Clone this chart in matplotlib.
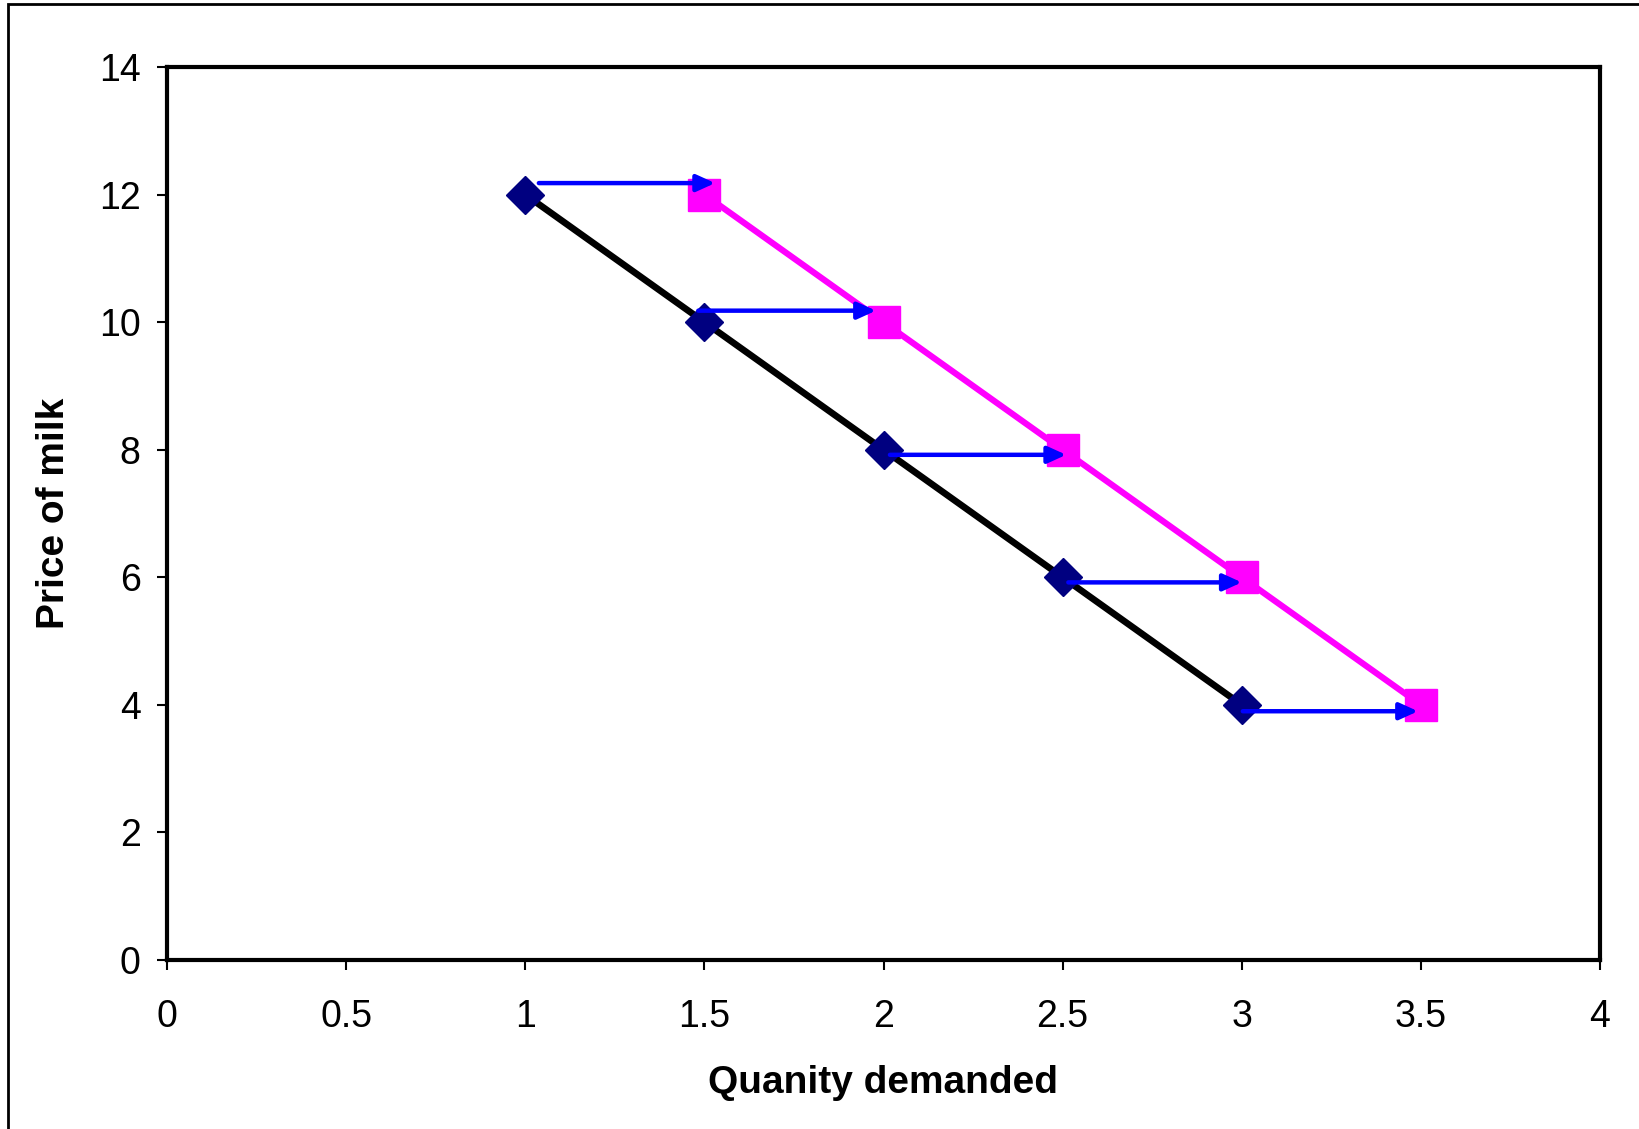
import matplotlib
matplotlib.use("Agg")
import matplotlib.pyplot as plt
from matplotlib.patches import Rectangle

plt.rcParams["font.family"] = ["Liberation Sans", "DejaVu Sans"]

# demand curves
qty_before = [1, 1.5, 2, 2.5, 3]
qty_after = [1.5, 2, 2.5, 3, 3.5]
price = [12, 10, 8, 6, 4]

# hand-drawn shift arrows
arrow_x0 = [1.038, 1.483, 2.018, 2.516, 3.003]
arrow_x1 = [1.530, 1.979, 2.510, 3.000, 3.492]
arrow_y = [12.18, 10.18, 7.92, 5.92, 3.90]

xticks = [0, 0.5, 1, 1.5, 2, 2.5, 3, 3.5, 4]
xtick_labels = ["0", "0.5", "1", "1.5", "2", "2.5", "3", "3.5", "4"]
yticks = [0, 2, 4, 6, 8, 10, 12, 14]

W, H = 1639, 1129
fig = plt.figure(figsize=(W / 100, H / 100), dpi=100)
ax = fig.add_axes([167 / W, 1 - 960 / H, (1600 - 167) / W, (960 - 67) / H])

ax.plot(qty_before, price, color="black", lw=4.8, marker="D", ms=19,
        mfc="#000080", mec="#000080", zorder=3)
ax.plot(qty_after, price, color="#FF00FF", lw=4.5, marker="s", ms=23.5,
        mfc="#FF00FF", mec="#FF00FF", zorder=3)

for x0, x1, y in zip(arrow_x0, arrow_x1, arrow_y):
    ax.annotate("", xy=(x1, y), xytext=(x0, y),
                arrowprops=dict(arrowstyle="-|>,head_length=0.55,head_width=0.25",
                                color="#0000FF", lw=3.2, mutation_scale=20,
                                shrinkA=0, shrinkB=0),
                zorder=5)

ax.set_xlim(0, 4)
ax.set_ylim(0, 14)
ax.set_xticks(xticks)
ax.set_xticklabels(xtick_labels)
ax.set_yticks(yticks)

for s in ax.spines.values():
    s.set_linewidth(3)
ax.tick_params(axis="both", direction="out", length=7, width=1.5,
               labelsize=27)
ax.tick_params(axis="x", pad=21)
ax.tick_params(axis="y", pad=12)

ax.set_xlabel("Quanity demanded", fontsize=28, fontweight="bold")
ax.xaxis.set_label_coords(0.5, -0.138)
ax.xaxis.label.set_va("center")
ax.set_ylabel("Price of milk", fontsize=28, fontweight="bold")
ax.yaxis.set_label_coords(-0.079, 0.5)
ax.yaxis.label.set_va("center")

# outer frame of the chart area
fig.patches.append(Rectangle((8 / W, -0.1), 2, 1.1 - 4 / H,
                             transform=fig.transFigure, fill=False,
                             lw=2, edgecolor="black"))

fig.savefig("out.png", dpi=100)
